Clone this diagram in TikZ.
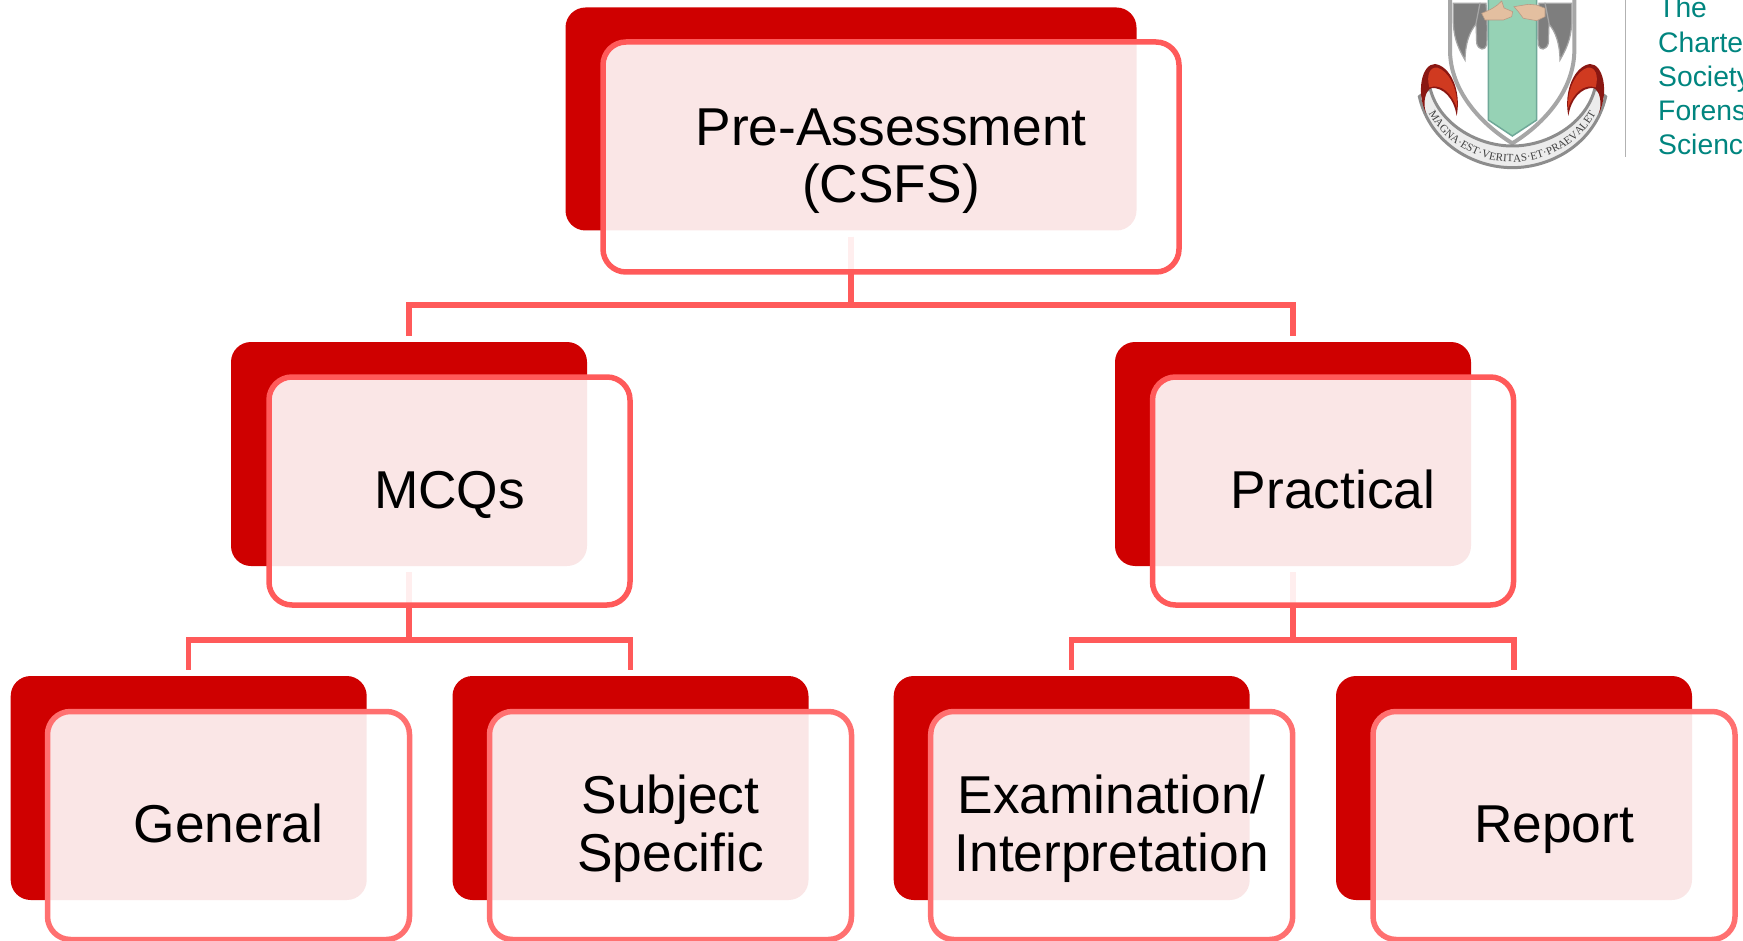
\documentclass[tikz,border=0pt]{standalone}
\usepackage{fontspec}
\setmainfont{Liberation Sans}
\newfontfamily\logoserif{Liberation Serif}
\usetikzlibrary{decorations.text}
\definecolor{boxred}{HTML}{CF0000}
\definecolor{lineA}{HTML}{FF5A5A}
\definecolor{lineB}{HTML}{FF7070}
\definecolor{logoteal}{HTML}{00857F}
\definecolor{logogreen}{HTML}{96D2B5}
\definecolor{logogreenline}{HTML}{6FA898}
\definecolor{logogray}{HTML}{7E7E7E}
\definecolor{logorim}{HTML}{A6A6A6}
\definecolor{logoskin}{HTML}{E3BFA0}
\definecolor{logoskinline}{HTML}{B89A85}
\definecolor{logodark}{HTML}{8A1712}
\definecolor{logored}{HTML}{D03A20}
\newcommand{\mantlepart}{%
  \fill[logodark] (138,340) .. controls (108,275) and (125,192) .. (165,192)
     .. controls (210,198) and (245,270) .. (230,348)
     .. controls (222,295) and (190,262) .. (155,264)
     .. controls (135,270) and (128,310) .. (138,340) -- cycle;
  \fill[logored] (148,262) .. controls (138,225) and (150,200) .. (172,203)
     .. controls (205,212) and (234,265) .. (231,325)
     .. controls (215,280) and (185,250) .. (148,262) -- cycle;
}
\newcommand{\sleevepart}{%
  \draw[logorim,line width=1.2pt,fill=logogray] (220,10) -- (300,10) -- (290,70)
     .. controls (268,95) and (256,130) .. (255,180)
     .. controls (238,150) and (222,120) .. (220,70) -- cycle;
  \draw[logorim,line width=1.2pt,fill=logogray] (300,10) -- (318,10)
     .. controls (322,50) and (322,100) .. (320,135)
     .. controls (316,152) and (296,152) .. (290,130) -- (288,70) -- cycle;
}
\newcommand{\linetext}[1]{\rule[-14pt]{0pt}{62pt}#1}
\newcommand{\firstline}[1]{\rule{0pt}{48pt}#1}
\newcommand{\lastline}[1]{\rule[-14pt]{0pt}{14pt}#1}
\tikzset{
  redbox/.style={rectangle,rounded corners=20pt,fill=boxred,minimum width=356pt,minimum height=224pt,inner sep=0pt},
  outbox/.style={rectangle,rounded corners=23pt,fill=white,fill opacity=.9,text opacity=1,line width=5.5pt,draw=lineA,
     minimum width=361pt,minimum height=228pt,inner sep=0pt,align=center,font=\fontsize{53.3}{57.7}\selectfont},
  outlow/.style={outbox,draw=lineB,minimum width=362pt,minimum height=228pt},
  linkline/.style={draw=lineA,line width=5.5pt,shorten <=6pt,shorten >=6pt},
  logotext/.style={anchor=base west,inner sep=0pt,text=logoteal,font=\fontsize{28.3}{28}\selectfont}
}
\begin{document}
\begin{tikzpicture}[x=1pt,y=-1pt]
\useasboundingbox (0,0) rectangle (1743,941);
\clip (0,0) rectangle (1743,941);
% back boxes
\node[redbox,minimum width=571pt,minimum height=223pt] (rTop) at (851,119) {};
\node[redbox] (rMcq) at (409,454) {};
\node[redbox] (rPra) at (1293,454) {};
\node[redbox] (rGen) at (188.7,788) {};
\node[redbox] (rSub) at (630.5,788) {};
\node[redbox] (rExa) at (1071.7,788) {};
\node[redbox] (rRep) at (1514,788) {};
% bus levels
\coordinate (busA) at (0,305);
\coordinate (busB) at (0,640);
% connectors
\draw[linkline] (rTop.south) -- (rTop.south |- busA) -| (rMcq.north);
\draw[linkline] (rTop.south) -- (rTop.south |- busA) -| (rPra.north);
\draw[linkline] (rMcq.south) -- (rMcq.south |- busB) -| (rGen.north);
\draw[linkline] (rMcq.south) -- (rMcq.south |- busB) -| (rSub.north);
\draw[linkline] (rPra.south) -- (rPra.south |- busB) -| (rExa.north);
\draw[linkline] (rPra.south) -- (rPra.south |- busB) -| (rRep.north);
% front boxes
\node[outbox,minimum width=576pt,minimum height=230pt] (oTop) at (891,157) {\firstline{Pre-Assessment}\\\lastline{(CSFS)}};
\node[outbox] (oMcq) at (449.5,491) {\linetext{MCQs}};
\node[outbox] (oPra) at (1333,491) {\linetext{Practical}};
\node[outlow] (oGen) at (228.5,825.5) {\linetext{General}};
\node[outlow] (oSub) at (670.5,825.5) {\firstline{Subject}\\\lastline{Specific}};
\node[outlow] (oExa) at (1111.7,825.5) {\firstline{Examination/}\\\lastline{Interpretation}};
\node[outlow] (oRep) at (1554,825.5) {\linetext{Report}};
% logo
\begin{scope}[shift={(1380,0)},x=0.33333pt,y=-0.33333pt]
  \draw[logorim,line width=4pt,fill=white] (210,-10) -- (210,150) .. controls (210,270) and (300,370) .. (397,430)
     .. controls (494,370) and (583,270) .. (583,150) -- (583,-10);
  \sleevepart
  \begin{scope}[shift={(795,0)},xscale=-1]\sleevepart\end{scope}
  \draw[logogreenline,line width=1.5pt,fill=logogreen] (325,-5) -- (325,360) -- (397,408) -- (470,360) -- (470,-5);
  \draw[logoskinline,line width=.6pt,fill=logoskin] (305,40) .. controls (330,30) and (350,20) .. (365,3)
     -- (372,24) -- (398,35) -- (395,50) -- (370,60) -- (315,60) -- cycle;
  \draw[logoskinline,line width=.6pt,fill=logoskin] (402,20) -- (445,13) -- (470,15) -- (495,25) -- (495,50) -- (470,62) -- (430,55) -- (415,35) -- cycle;
  % ribbon
  \draw[logorim!85!black,line width=3pt,fill=gray!15] (118,290) .. controls (150,430) and (280,503) .. (397,503)
     .. controls (515,503) and (645,430) .. (677,290) -- (645,264)
     .. controls (620,370) and (505,438) .. (397,438)
     .. controls (290,438) and (175,370) .. (150,264) -- cycle;
  \mantlepart
  \begin{scope}[shift={(795,0)},xscale=-1]\mantlepart\end{scope}
  \path[decorate,decoration={text along path,text align={fit to path},
     text={|\logoserif\fontsize{11}{11}\selectfont\color{black!75}|MAGNA·EST·VERITAS·ET·PRAEVALET}}]
     (146,340) .. controls (195,430) and (295,486) .. (397,486) .. controls (500,486) and (600,430) .. (648,340);
\end{scope}
\draw[gray!60,line width=1pt] (1625.7,0) -- (1625.7,157);
\node[logotext] (l1) at (1658,18) {The};
\node[logotext] (l2) at (1658,53) {Chartered};
\node[logotext] (l3) at (1658,87) {Society of};
\node[logotext] (l4) at (1658,121) {Forensic};
\node[logotext] (l5) at (1658,155) {Sciences};
\end{tikzpicture}
\end{document}
